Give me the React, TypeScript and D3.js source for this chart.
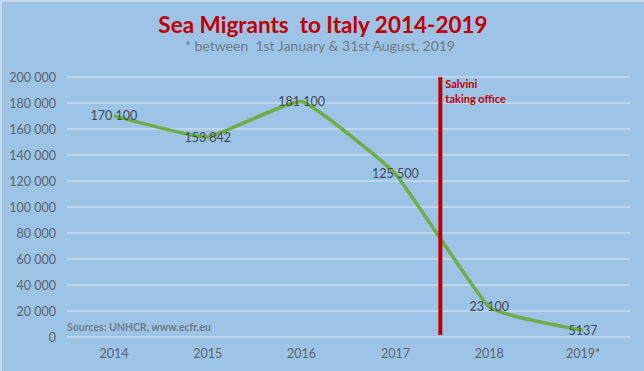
import React from "react";
import * as d3 from "d3";

const years = ["2014", "2015", "2016", "2017", "2018", "2019*"];
const migrants = [170100, 153842, 181100, 125500, 23100, 5137];
const yTicks = [0, 20000, 40000, 60000, 80000, 100000, 120000, 140000, 160000, 180000, 200000];

const W = 644;
const H = 371;
const margin = { top: 77, right: 14, bottom: 34, left: 67 };
const font = "Lato, 'Open Sans', sans-serif";
const fmt = (v: number) => d3.format(",")(v).replace(/,/g, " ");

export default function App() {
  const x = d3
    .scaleBand()
    .domain(years)
    .range([margin.left, W - margin.right]);
  const y = d3
    .scaleLinear()
    .domain([0, 200000])
    .range([H - margin.bottom, margin.top]);

  const cx = (d: string) => (x(d) ?? 0) + x.bandwidth() / 2;
  const pts: [number, number][] = years.map((d, i) => [cx(d), y(migrants[i])]);
  // light smoothing, like the spreadsheet's smoothed line
  const line = d3.line().curve(d3.curveCardinal.tension(0.65))(pts) ?? "";

  // marker between 2017 and 2018
  const markX = (x("2018") ?? 0) - 2;

  return (
    <svg
      width={W}
      height={H}
      style={{ position: "absolute", left: 0, top: 0, display: "block" }}
      fontFamily={font}
    >
      <rect x={0} y={0} width={W} height={H} fill="#c9d9e8" />
      <rect x={2} y={2} width={W - 2} height={H - 2} fill="#9dc3e6" />

      <text x={323} y={33} textAnchor="middle" fontSize={22.5} fontWeight="bold" fill="#c00000" style={{ whiteSpace: "pre" }}>
        Sea Migrants  to Italy 2014-2019
      </text>
      <text x={320} y={51} textAnchor="middle" fontSize={14} fill="#6e7b88" style={{ whiteSpace: "pre" }}>
        * between  1st January &amp; 31st August, 2019
      </text>

      {yTicks.map(t => (
        <g key={t}>
          <line
            x1={margin.left}
            x2={W - margin.right}
            y1={y(t)}
            y2={y(t)}
            stroke="#dde8f3"
            strokeWidth={1.2}
          />
          <text x={56} y={y(t) + 4.5} textAnchor="end" fontSize={12.5} fill="#5a6470">
            {fmt(t)}
          </text>
        </g>
      ))}

      {years.map(d => (
        <text key={d} x={cx(d)} y={358} textAnchor="middle" fontSize={12.5} fill="#5a6470">
          {d}
        </text>
      ))}

      <text x={67} y={331} fontSize={10.5} fontWeight="bold" fill="#6e7b88">
        Sources: UNHCR, www.ecfr.eu
      </text>

      <path d={line} fill="none" stroke="#70ad47" strokeWidth={3.5} strokeLinejoin="round" />

      <line x1={markX} x2={markX} y1={y(200000)} y2={y(0) - 2} stroke="#c00000" strokeWidth={4} />
      <text x={markX + 5} y={88} fontSize={11} fontWeight="bold" fill="#c00000">
        <tspan x={markX + 5}>Salvini</tspan>
        <tspan x={markX + 5} dy={14.5}>taking office</tspan>
      </text>

      {years.map((d, i) => (
        <text
          key={d}
          x={cx(d)}
          y={y(migrants[i]) + 4.5}
          textAnchor="middle"
          fontSize={12.5}
          fill="#404a55"
        >
          {migrants[i] < 10000 ? String(migrants[i]) : fmt(migrants[i])}
        </text>
      ))}
    </svg>
  );
}
